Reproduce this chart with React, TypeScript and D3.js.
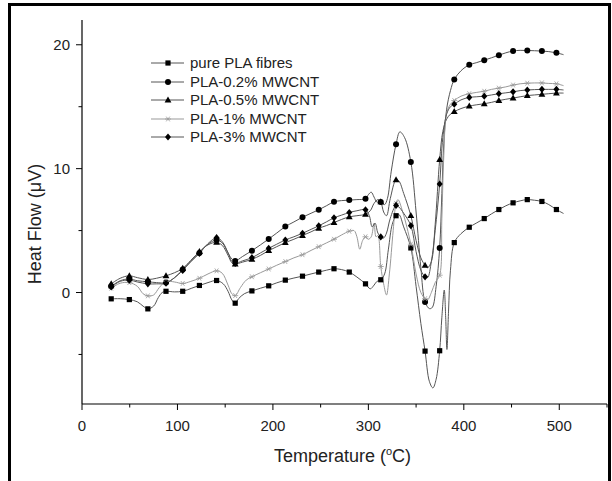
import React from "react";
import * as d3 from "d3";

type P = [number, number, number];

const seriesNames = ["pure PLA fibres", "PLA-0.2% MWCNT", "PLA-0.5% MWCNT", "PLA-1% MWCNT", "PLA-3% MWCNT"];
const seriesMarkers = ["square", "circle", "triangle", "star", "diamond"];

const purePLA: P[] = [[30.6,-0.51,1],[40,-0.5,0],[49.6,-0.57,1],[58,-0.75,0],[64,-1.1,0],[69,-1.32,1],[75,-1.1,0],[80,-0.4,0],[84,0.0,0],[88,0.1,1],[97,0.05,0],[105.5,0.1,1],[115,0.35,0],[123,0.57,1],[132,0.8,0],[141,0.97,1],[148,0.7,0],[153,0.1,0],[157,-0.6,0],[160.5,-0.86,1],[164,-0.5,0],[170,-0.1,0],[178,0.13,1],[187,0.35,0],[195.6,0.54,1],[204,0.78,0],[213,1.0,1],[222,1.17,0],[231,1.32,1],[240,1.5,0],[248,1.65,1],[256,1.8,0],[264,1.92,1],[272,1.85,0],[280,1.65,1],[288,1.25,0],[297,0.7,1],[302,0.3,0],[306,0.6,0],[309,0.9,0],[313,1.03,1],[317,1.5,0],[321,3.5,0],[325,5.5,0],[329,6.2,1],[332,6.3,0],[337,5.3,0],[344.5,3.6,1],[350,0.5,0],[355,-2.5,0],[359.4,-4.73,1],[364,-7.2,0],[367.6,-7.7,0],[371,-7.0,0],[374.7,-4.7,1],[377,-2.0,0],[379.5,0.2,0],[381,-2.0,0],[382.3,-4.6,0],[384,-1.5,0],[386,1.8,0],[390,4.03,1],[397,4.75,0],[405.7,5.27,1],[413,5.6,0],[421.4,5.97,1],[429,6.35,0],[436.7,6.7,1],[444,7.0,0],[451.6,7.24,1],[459,7.4,0],[466.5,7.5,1],[474,7.45,0],[481.8,7.35,1],[489,7.1,0],[497,6.7,1],[504.5,6.38,0]];

const pla02: P[] = [[30.6,0.5,1],[40,0.95,0],[49.6,1.1,1],[58,0.95,0],[69,0.87,1],[78,0.8,0],[88,0.8,1],[97,1.2,0],[105.5,1.85,1],[114,2.5,0],[123,3.2,1],[132,3.9,0],[141,4.24,1],[147,4.0,0],[153,3.2,0],[157,2.7,0],[160.5,2.55,1],[168,2.9,0],[178,3.38,1],[187,3.85,0],[195.6,4.32,1],[204,4.8,0],[213,5.32,1],[222,5.7,0],[231,6.08,1],[240,6.4,0],[248,6.68,1],[256,7.0,0],[264,7.32,1],[272,7.42,0],[280,7.46,1],[288,7.5,0],[297,7.57,1],[300,7.9,0],[303,8.1,0],[306,7.7,0],[309,7.3,0],[313,7.3,1],[317,7.1,0],[320,7.6,0],[324,9.8,0],[329,11.97,1],[333,12.97,0],[338,12.5,0],[344.5,10.54,1],[350,6.5,0],[355,2.0,0],[359.4,-0.76,1],[364,-1.3,0],[367,-1.2,0],[371,0.5,0],[374.7,3.6,1],[377,8,0],[379,12,0],[382,14.8,0],[386,16.3,0],[390,17.2,1],[397,17.9,0],[405.7,18.38,1],[413,18.55,0],[421.4,18.76,1],[429,18.95,0],[436.7,19.16,1],[444,19.35,0],[451.6,19.5,1],[459,19.55,0],[466.5,19.54,1],[474,19.52,0],[481.8,19.49,1],[489,19.45,0],[497,19.35,1],[504.5,19.2,0]];

const pla05: P[] = [[30.6,0.7,1],[40,1.15,0],[49.6,1.35,1],[58,1.2,0],[69,1.05,1],[78,1.15,0],[88,1.35,1],[97,1.6,0],[105.5,1.95,1],[114,2.6,0],[123,3.3,1],[132,3.85,0],[141,4.05,1],[147,3.8,0],[153,3.0,0],[157,2.4,0],[160.5,2.3,1],[168,2.45,0],[178,2.68,1],[187,3.0,0],[195.6,3.38,1],[204,3.7,0],[213,4.03,1],[222,4.3,0],[231,4.6,1],[240,4.9,0],[248,5.19,1],[256,5.4,0],[264,5.65,1],[272,5.9,0],[280,6.11,1],[288,6.2,0],[297,6.32,1],[302,6.6,0],[306,7.2,0],[310,7.5,0],[313,7.32,1],[316,6.5,0],[319,6.2,0],[323,7.6,0],[329,9.1,1],[332,9.0,0],[337,8.0,0],[344.5,6.2,1],[350,4.2,0],[355,2.8,0],[359.4,2.19,1],[362,2.0,0],[366,2.5,0],[370,5.5,0],[374.7,10.73,1],[378,13.0,0],[382,14.0,0],[386,14.4,0],[390,14.6,1],[397,14.85,0],[405.7,15.05,1],[413,15.15,0],[421.4,15.24,1],[429,15.35,0],[436.7,15.5,1],[444,15.6,0],[451.6,15.7,1],[459,15.8,0],[466.5,15.9,1],[474,15.95,0],[481.8,16.0,1],[489,16.05,0],[497,16.1,1],[504.5,16.1,0]];

const pla1: P[] = [[30.6,0.35,1],[40,0.75,0],[49.6,0.8,1],[58,0.5,0],[64,-0.1,0],[69,-0.27,1],[75,-0.2,0],[81,0.4,0],[88,0.9,1],[97,0.85,0],[105.5,0.73,1],[114,0.9,0],[123,1.15,1],[132,1.5,0],[141,1.75,1],[147,1.55,0],[153,0.6,0],[157,-0.1,0],[160.5,-0.25,1],[166,0.4,0],[172,1.0,0],[178,1.27,1],[187,1.6,0],[195.6,1.9,1],[204,2.2,0],[213,2.5,1],[222,2.8,0],[231,3.05,1],[240,3.4,0],[248,3.7,1],[256,4.0,0],[264,4.3,1],[272,4.65,0],[280,4.95,1],[285,5.0,0],[288,4.5,0],[291,3.5,0],[294,4.2,0],[297,4.5,1],[300,4.3,0],[303,4.5,0],[306,5.6,0],[308,4.5,0],[310,4.6,0],[313,2.1,1],[316,0.7,0],[319,-0.2,0],[322,1.5,0],[326,5.0,0],[329,7.2,1],[331,7.5,0],[336,6.5,0],[344.5,3.9,1],[350,1.5,0],[355,0.0,0],[359.4,-0.5,1],[362,-0.6,0],[366,0.0,0],[370,0.8,0],[374.7,1.4,1],[377,6,0],[379,11,0],[382,14.5,0],[386,15.2,0],[390,15.5,1],[397,15.85,0],[405.7,16.05,1],[413,16.15,0],[421.4,16.25,1],[429,16.4,0],[436.7,16.5,1],[444,16.6,0],[451.6,16.75,1],[459,16.85,0],[466.5,16.9,1],[474,16.92,0],[481.8,16.92,1],[489,16.88,0],[497,16.85,1],[504.5,16.7,0]];

const pla3: P[] = [[30.6,0.45,1],[40,0.9,0],[49.6,1.0,1],[58,0.85,0],[69,0.7,1],[78,0.7,0],[88,0.75,1],[97,1.2,0],[105.5,1.78,1],[114,2.5,0],[123,3.16,1],[132,3.95,0],[141,4.43,1],[147,4.1,0],[153,3.2,0],[157,2.5,0],[160.5,2.35,1],[168,2.55,0],[178,2.81,1],[187,3.2,0],[195.6,3.57,1],[204,3.9,0],[213,4.24,1],[222,4.5,0],[231,4.78,1],[240,5.1,0],[248,5.38,1],[256,5.7,0],[264,6.03,1],[272,6.25,0],[280,6.46,1],[288,6.6,0],[297,6.68,1],[301,6.2,0],[304,5.3,0],[307,5.6,0],[310,4.8,0],[313,4.49,1],[316,4.4,0],[319,4.8,0],[323,6.0,0],[329,7.03,1],[332,6.9,0],[337,6.4,0],[344.5,5.4,1],[350,3.3,0],[355,1.8,0],[359.4,1.27,1],[362,1.2,0],[366,2.5,0],[370,5.0,0],[374.7,8.76,1],[378,12.5,0],[382,14.4,0],[386,15.0,0],[390,15.2,1],[397,15.55,0],[405.7,15.75,1],[413,15.8,0],[421.4,15.85,1],[429,15.95,0],[436.7,16.05,1],[444,16.12,0],[451.6,16.2,1],[459,16.3,0],[466.5,16.35,1],[474,16.38,0],[481.8,16.4,1],[489,16.4,0],[497,16.4,1],[504.5,16.35,0]];

const allSeries = [purePLA, pla02, pla05, pla1, pla3];

const xMajor = [0, 100, 200, 300, 400, 500];
const xMinor = [50, 150, 250, 350, 450, 550];
const yMajor = [0, 10, 20];
const yMinor = [-5, 5, 15];

const W = 612, H = 481;
const FONT = "'Liberation Sans', Arial, sans-serif";

function Marker({ kind, x, y }: { kind: string; x: number; y: number }) {
  if (kind === "square") return <rect x={x - 2.6} y={y - 2.6} width={5.2} height={5.2} fill="#000" />;
  if (kind === "circle") return <circle cx={x} cy={y} r={3} fill="#000" />;
  if (kind === "triangle") return <path d={`M${x},${y - 3.6}L${x + 3.4},${y + 2.4}L${x - 3.4},${y + 2.4}Z`} fill="#000" />;
  if (kind === "diamond") return <path d={`M${x},${y - 3.6}L${x + 3},${y}L${x},${y + 3.6}L${x - 3},${y}Z`} fill="#000" />;
  const r = 3;
  return (
    <g stroke="#999" strokeWidth={0.8}>
      <line x1={x - r} y1={y} x2={x + r} y2={y} />
      <line x1={x - r * 0.6} y1={y - r * 0.8} x2={x + r * 0.6} y2={y + r * 0.8} />
      <line x1={x - r * 0.6} y1={y + r * 0.8} x2={x + r * 0.6} y2={y - r * 0.8} />
    </g>
  );
}

export default function App() {
  const x = d3.scaleLinear().domain([0, 550]).range([82, 607]);
  const y = d3.scaleLinear().domain([-9, 22]).range([404, 20]);
  const line = d3
    .line<P>()
    .x((d) => x(d[0]))
    .y((d) => y(d[1]))
    .curve(d3.curveCatmullRom.alpha(0.5));

  const lineColors = ["#555", "#555", "#555", "#999", "#555"];
  const legendY = [63, 82, 100, 119, 137];

  return (
    <svg width={W} height={H} style={{ position: "absolute", left: 0, top: 0, background: "#fff" }} fontFamily={FONT}>
      <rect x={0} y={0} width={W} height={H} fill="#fff" />
      <path d={`M9.5,${H} V4.5 H609.5 V${H}`} fill="none" stroke="#000" strokeWidth={3} />

      {/* axes */}
      <line x1={x(0)} y1={y(-9)} x2={x(550)} y2={y(-9)} stroke="#000" strokeWidth={1.2} />
      <line x1={x(0)} y1={y(-9)} x2={x(0)} y2={y(22)} stroke="#000" strokeWidth={1.2} />
      {xMajor.map((t) => (
        <g key={"xm" + t}>
          <line x1={x(t)} x2={x(t)} y1={y(-9)} y2={y(-9) + 6} stroke="#000" />
          <text x={x(t)} y={y(-9) + 27} textAnchor="middle" fontSize={15} fill="#222">{t}</text>
        </g>
      ))}
      {xMinor.map((t) => (
        <line key={"xn" + t} x1={x(t)} x2={x(t)} y1={y(-9)} y2={y(-9) + 3.5} stroke="#000" />
      ))}
      {yMajor.map((t) => (
        <g key={"ym" + t}>
          <line x1={x(0) - 6} x2={x(0)} y1={y(t)} y2={y(t)} stroke="#000" />
          <text x={x(0) - 12} y={y(t) + 5} textAnchor="end" fontSize={15} fill="#222">{t}</text>
        </g>
      ))}
      {yMinor.map((t) => (
        <line key={"yn" + t} x1={x(0) - 3.5} x2={x(0)} y1={y(t)} y2={y(t)} stroke="#000" />
      ))}
      <text x={x(275) - 2} y={462} textAnchor="middle" fontSize={18} fill="#222">
        Temperature (<tspan dy={-7} fontSize={11}>o</tspan><tspan dy={7}>C)</tspan>
      </text>
      <text transform={`translate(41,${(y(-9) + y(22)) / 2 + 12}) rotate(-90)`} textAnchor="middle" fontSize={18} fill="#222">
        Heat Flow (μV)
      </text>

      {/* series */}
      {allSeries.map((s, i) => (
        <path key={"l" + i} d={line(s) || ""} fill="none" stroke={lineColors[i]} strokeWidth={1} />
      ))}
      {allSeries.map((s, i) =>
        s.filter((d) => d[2] === 1).map((d, j) => <Marker key={`m${i}-${j}`} kind={seriesMarkers[i]} x={x(d[0])} y={y(d[1])} />)
      )}

      {/* legend */}
      {seriesNames.map((n, i) => (
        <g key={"lg" + i}>
          <line x1={151} x2={184} y1={legendY[i]} y2={legendY[i]} stroke={lineColors[i]} strokeWidth={1} />
          <Marker kind={seriesMarkers[i]} x={168} y={legendY[i]} />
          <text x={190} y={legendY[i] + 5} fontSize={15} fill="#222">{n}</text>
        </g>
      ))}
    </svg>
  );
}
